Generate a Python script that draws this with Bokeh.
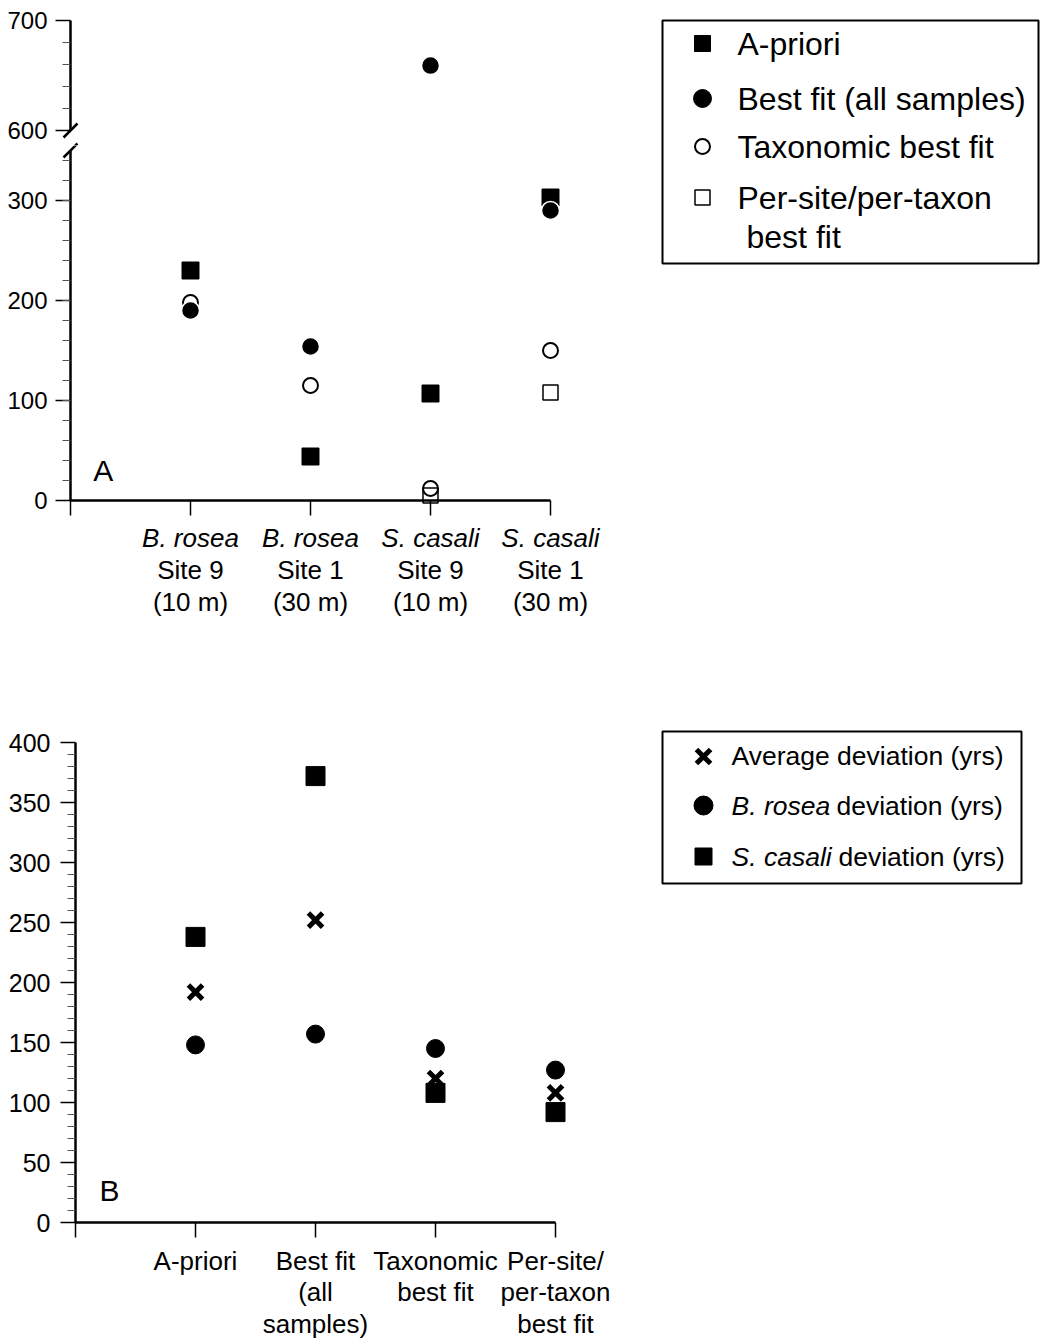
from bokeh.plotting import figure
from bokeh.models import FixedTicker, LinearAxis, Range1d, Arrow, Label
from bokeh.layouts import column, row
from bokeh.embed import file_html
from bokeh.resources import INLINE
from bokeh.core.properties import value

FONT = "Liberation Sans"
NAN = float("nan")

# ---------------- Panel A data ----------------
site_pos = [1, 2, 3, 4]
site_taxa = ["B. rosea", "B. rosea", "S. casali", "S. casali"]
site_names = ["Site 9\n(10 m)", "Site 1\n(30 m)", "Site 9\n(10 m)", "Site 1\n(30 m)"]
a_priori = [230, 44, 107, 303]
best_fit_all = [190, 154, 659, 290]
taxonomic_fit = [198, 115, 12, 150]
per_site_fit = [NAN, NAN, 5, 108]
a_low_ticks = [0, 100, 200, 300]
a_high_ticks = [600, 700]

# ---------------- Panel B data ----------------
method_pos = [1, 2, 3, 4]
methods = ["A-priori", "Best fit\n(all\nsamples)", "Taxonomic\nbest fit", "Per-site/\nper-taxon\nbest fit"]
avg_dev = [192, 252, 120, 108]
rosea_dev = [148, 157, 145, 127]
casali_dev = [238, 372, 108, 92]
b_ticks = [0, 50, 100, 150, 200, 250, 300, 350, 400]

BREAK = 600


def low(vals):
    return [v if v < BREAK else NAN for v in vals]


def high(vals):
    return [v if v >= BREAK else NAN for v in vals]


def clean(p):
    p.grid.visible = False
    p.outline_line_color = None
    p.background_fill_color = "white"
    p.border_fill_color = "white"


def style_axis(ax, tick_out=15, label_size="24px", standoff=8):
    ax.axis_line_width = 2.5
    ax.axis_line_color = "black"
    ax.major_tick_line_width = 1.5
    ax.major_tick_line_color = "black"
    ax.major_tick_out = tick_out
    ax.major_tick_in = 0
    ax.minor_tick_out = 8
    ax.minor_tick_in = 0
    ax.minor_tick_line_color = "#555555"
    ax.minor_tick_line_width = 1
    ax.major_label_text_font = FONT
    ax.major_label_text_color = "black"
    ax.major_label_text_font_size = label_size
    ax.major_label_standoff = standoff


def draw_a(p, f):
    p.scatter(site_pos, f(a_priori), marker="square", size=17, color="black")
    p.scatter(site_pos, f(per_site_fit), marker="square", size=15, fill_color=None,
              line_color="black", line_width=1.5)
    p.scatter(site_pos, f(taxonomic_fit), marker="circle", size=15, fill_color=None,
              line_color="black", line_width=2)
    p.scatter(site_pos, f(best_fit_all), marker="circle", size=18, fill_color="black",
              line_color="white", line_width=1.5)


def slash(p, yc, scale):
    dy = 7 / scale
    p.add_layout(Arrow(x_start=-0.058, y_start=yc - dy, x_end=0.058, y_end=yc + dy,
                       end=None, line_width=2.5, line_color="black"))


X0 = -70 / 120.0  # frame starts at page left; y axis fixed at x = 0
TOP_SCALE = 1.1   # px per unit in the upper (600-700) segment

# ---- Panel A, upper segment (page y 0..145) ----
pa_top = figure(width=640, height=145, x_range=Range1d(X0, 4.5),
                y_range=Range1d(700 - 125 / TOP_SCALE, 700 + 20 / TOP_SCALE),
                x_axis_location=None, toolbar_location=None, output_backend="svg",
                min_border_left=0, min_border_right=30, min_border_top=0, min_border_bottom=0)
clean(pa_top)
draw_a(pa_top, high)
ya = pa_top.yaxis[0]
ya.ticker = FixedTicker(ticks=a_high_ticks, minor_ticks=[620, 640, 660, 680])
ya.bounds = (600, 700)
ya.fixed_location = 0
style_axis(ya)
slash(pa_top, 600, TOP_SCALE)
slash(pa_top, 700 - 130 / TOP_SCALE, TOP_SCALE)

# ---- Panel A, lower segment (page y 145..720, value 0 at page y 500) ----
pa_bot = figure(width=640, height=575, x_range=Range1d(X0, 4.5), y_range=Range1d(-220, 355),
                toolbar_location=None, output_backend="svg",
                min_border_left=0, min_border_right=30, min_border_top=0, min_border_bottom=0)
clean(pa_bot)
draw_a(pa_bot, low)
yb = pa_bot.yaxis[0]
yb.ticker = FixedTicker(ticks=a_low_ticks, minor_ticks=list(range(20, 350, 20)))
yb.bounds = (0, 350)
yb.fixed_location = 0
style_axis(yb)
xa = pa_bot.xaxis[0]
xa.ticker = FixedTicker(ticks=[0] + site_pos)
xa.bounds = (0, 4)
xa.fixed_location = 0
style_axis(xa, tick_out=15, label_size="26px", standoff=7)
xa.major_label_text_font_style = "italic"
xa.major_label_overrides = {0: "", **{p: t for p, t in zip(site_pos, site_taxa)}}
xa2 = LinearAxis(ticker=FixedTicker(ticks=site_pos), fixed_location=0)
style_axis(xa2, tick_out=0, label_size="26px", standoff=54)
xa2.axis_line_color = None
xa2.major_tick_line_color = None
xa2.major_label_text_line_height = 1.08
xa2.major_label_overrides = {p: t for p, t in zip(site_pos, site_names)}
pa_bot.add_layout(xa2, "below")
slash(pa_bot, 350, 1.0)
pa_bot.add_layout(Label(x=0.19, y=30, text="A", text_font=FONT, text_font_size="30px",
                        text_baseline="middle", text_color="black"))

# ---- Legend A ----
leg_a = figure(width=400, height=300, x_range=Range1d(0, 376), y_range=Range1d(243, 0),
               x_axis_location=None, y_axis_location=None, toolbar_location=None,
               output_backend="svg", min_border_left=22, min_border_right=2,
               min_border_top=20, min_border_bottom=37)
clean(leg_a)
leg_a.outline_line_color = "black"
leg_a.outline_line_width = 2
leg_a.scatter([40], [23], marker="square", size=16, color="black")
leg_a.scatter([40], [78], marker="circle", size=18, color="black")
leg_a.scatter([40], [126], marker="circle", size=15, fill_color=None, line_color="black", line_width=2)
leg_a.scatter([40], [177], marker="square", size=15, fill_color=None, line_color="black", line_width=1.5)
leg_a.text(x=[75, 75, 75, 75, 84], y=[23, 78, 126, 177, 216],
           text=["A-priori", "Best fit (all samples)", "Taxonomic best fit", "Per-site/per-taxon", "best fit"],
           text_font=value(FONT), text_font_size="32px", text_baseline="middle", text_align="left",
           text_color="black")

# ---- Panel B ----
pb = figure(width=640, height=622, x_range=Range1d(0, 4.5), y_range=Range1d(0, 400),
            toolbar_location=None, output_backend="svg",
            min_border_left=75, min_border_right=25, min_border_top=22, min_border_bottom=120)
clean(pb)
pb.scatter(method_pos, casali_dev, marker="square", size=19, color="black")
pb.scatter(method_pos, rosea_dev, marker="circle", size=18, color="black")
pb.scatter(method_pos, avg_dev, marker="x", size=20, line_color="black", line_width=5)
ybb = pb.yaxis[0]
ybb.ticker = FixedTicker(ticks=b_ticks, minor_ticks=[v for v in range(10, 400, 10) if v % 50])
ybb.bounds = (0, 400)
style_axis(ybb, label_size="25px", standoff=10)
xb = pb.xaxis[0]
xb.ticker = FixedTicker(ticks=[0] + method_pos)
xb.bounds = (0, 4)
style_axis(xb, tick_out=15, label_size="26px", standoff=8)
xb.major_label_text_line_height = 1.05
xb.major_label_overrides = {0: "", **{p: t for p, t in zip(method_pos, methods)}}
pb.add_layout(Label(x=0.2, y=26.7, text="B", text_font=FONT, text_font_size="30px",
                    text_baseline="middle", text_color="black"))

# ---- Legend B ----
leg_b = figure(width=400, height=200, x_range=Range1d(0, 359), y_range=Range1d(152, 0),
               x_axis_location=None, y_axis_location=None, toolbar_location=None,
               output_backend="svg", min_border_left=22, min_border_right=19,
               min_border_top=11, min_border_bottom=37)
clean(leg_b)
leg_b.outline_line_color = "black"
leg_b.outline_line_width = 2
leg_b.scatter([41], [25], marker="x", size=20, line_color="black", line_width=5)
leg_b.scatter([41], [74], marker="circle", size=19, color="black")
leg_b.scatter([41], [125], marker="square", size=17, color="black")
leg_b.text(x=[69], y=[24], text=["Average deviation (yrs)"],
           text_font=value(FONT), text_font_size="26.5px", text_baseline="middle", text_align="left",
           text_color="black")
leg_b.text(x=[69, 69], y=[74, 125], text=["B. rosea", "S. casali"],
           text_font=value(FONT), text_font_size="26.5px", text_baseline="middle", text_align="left",
           text_font_style="italic", text_color="black")
leg_b.text(x=[174, 176], y=[74, 125], text=["deviation (yrs)", "deviation (yrs)"],
           text_font=value(FONT), text_font_size="26.5px", text_baseline="middle", text_align="left",
           text_color="black")

layout = column(row(column(pa_top, pa_bot), column(leg_a)), row(pb, column(leg_b)))

open("out.html", "w").write(file_html(layout, INLINE))
